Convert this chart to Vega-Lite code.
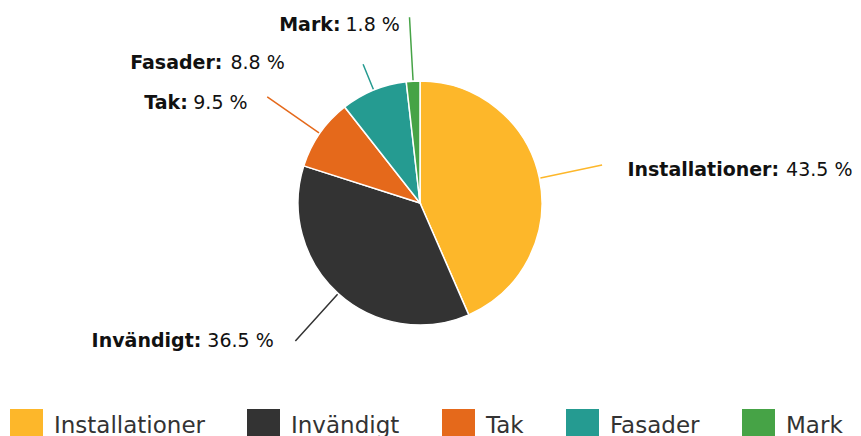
{
  "$schema": "https://vega.github.io/schema/vega-lite/v6.json",
  "autosize": "none",
  "width": 840,
  "height": 406,
  "padding": {"left": 0, "top": 0, "right": 21, "bottom": 30},
  "background": "#ffffff",
  "config": {"view": {"stroke": null}},
  "data": {
    "values": [
      {"cat": "Installationer", "value": 43.5, "ord": 1, "nameLabel": "Installationer:", "valueLabel": "43.5 %"},
      {"cat": "Invändigt", "value": 36.5, "ord": 2, "nameLabel": "Invändigt:", "valueLabel": "36.5 %"},
      {"cat": "Tak", "value": 9.5, "ord": 3, "nameLabel": "Tak:", "valueLabel": "9.5 %"},
      {"cat": "Fasader", "value": 8.8, "ord": 4, "nameLabel": "Fasader:", "valueLabel": "8.8 %"},
      {"cat": "Mark", "value": 1.8, "ord": 5, "nameLabel": "Mark:", "valueLabel": "1.8 %"}
    ]
  },
  "encoding": {
    "theta": {"field": "value", "type": "quantitative", "stack": true},
    "order": {"field": "ord", "type": "quantitative"}
  },
  "layer": [
    {
      "mark": {"type": "arc", "outerRadius": 122, "stroke": "#ffffff", "strokeWidth": 1.5},
      "encoding": {
        "color": {
          "field": "cat", "type": "nominal",
          "scale": {"domain": ["Installationer", "Invändigt", "Tak", "Fasader", "Mark"], "range": ["#FDB72A", "#333333", "#E5691B", "#259B91", "#46A346"]},
          "legend": {
            "orient": "none", "legendX": 10, "legendY": 409, "direction": "horizontal",
            "title": null, "symbolType": "square", "symbolSize": 1089, "symbolStrokeWidth": 0, "symbolOpacity": 1,
            "labelFont": "DejaVu Sans", "labelFontSize": 23, "labelColor": "#333333", "labelOffset": 11,
            "columnPadding": 42, "padding": 0, "labelLimit": 0
          }
        }
      }
    },
    {
      "mark": {"type": "arc", "innerRadius": 123, "outerRadius": 186, "padAngle": 3, "filled": false, "strokeWidth": 1.5},
      "encoding": {
        "stroke": {"field": "cat", "type": "nominal", "legend": null,
          "scale": {"domain": ["Installationer", "Invändigt", "Tak", "Fasader", "Mark"], "range": ["#FDB72A", "#333333", "#E5691B", "#259B91", "#46A346"]}},
        "strokeOpacity": {"condition": {"test": "datum.cat === 'Fasader'", "value": 0}, "value": 1}
      }
    },
    {
      "mark": {"type": "arc", "innerRadius": 123, "outerRadius": 150, "padAngle": 3, "filled": false, "strokeWidth": 1.5},
      "encoding": {
        "stroke": {"field": "cat", "type": "nominal", "legend": null,
          "scale": {"domain": ["Installationer", "Invändigt", "Tak", "Fasader", "Mark"], "range": ["#FDB72A", "#333333", "#E5691B", "#259B91", "#46A346"]}},
        "strokeOpacity": {"condition": {"test": "datum.cat === 'Fasader'", "value": 1}, "value": 0}
      }
    },
    {
      "mark": {"type": "text", "radius": 186, "dx": 177, "dy": 11, "align": "right", "baseline": "alphabetic", "font": "DejaVu Sans", "fontSize": 19, "fontWeight": "bold", "color": "#111111"},
      "encoding": {"text": {"condition": {"test": "datum.cat === 'Installationer'", "field": "nameLabel", "type": "nominal"}, "value": ""}}
    },
    {
      "mark": {"type": "text", "radius": 186, "dx": 184, "dy": 11, "align": "left", "baseline": "alphabetic", "font": "DejaVu Sans", "fontSize": 19, "color": "#111111"},
      "encoding": {"text": {"condition": {"test": "datum.cat === 'Installationer'", "field": "valueLabel", "type": "nominal"}, "value": ""}}
    },
    {
      "mark": {"type": "text", "radius": 186, "dx": -94, "dy": 6, "align": "right", "baseline": "alphabetic", "font": "DejaVu Sans", "fontSize": 19, "fontWeight": "bold", "color": "#111111"},
      "encoding": {"text": {"condition": {"test": "datum.cat === 'Invändigt'", "field": "nameLabel", "type": "nominal"}, "value": ""}}
    },
    {
      "mark": {"type": "text", "radius": 186, "dx": -88, "dy": 6, "align": "left", "baseline": "alphabetic", "font": "DejaVu Sans", "fontSize": 19, "color": "#111111"},
      "encoding": {"text": {"condition": {"test": "datum.cat === 'Invändigt'", "field": "valueLabel", "type": "nominal"}, "value": ""}}
    },
    {
      "mark": {"type": "text", "radius": 186, "dx": -79.5, "dy": 12, "align": "right", "baseline": "alphabetic", "font": "DejaVu Sans", "fontSize": 19, "fontWeight": "bold", "color": "#111111"},
      "encoding": {"text": {"condition": {"test": "datum.cat === 'Tak'", "field": "nameLabel", "type": "nominal"}, "value": ""}}
    },
    {
      "mark": {"type": "text", "radius": 186, "dx": -74, "dy": 12, "align": "left", "baseline": "alphabetic", "font": "DejaVu Sans", "fontSize": 19, "color": "#111111"},
      "encoding": {"text": {"condition": {"test": "datum.cat === 'Tak'", "field": "valueLabel", "type": "nominal"}, "value": ""}}
    },
    {
      "mark": {"type": "text", "radius": 186, "dx": -127, "dy": 38.5, "align": "right", "baseline": "alphabetic", "font": "DejaVu Sans", "fontSize": 19, "fontWeight": "bold", "color": "#111111"},
      "encoding": {"text": {"condition": {"test": "datum.cat === 'Fasader'", "field": "nameLabel", "type": "nominal"}, "value": ""}}
    },
    {
      "mark": {"type": "text", "radius": 186, "dx": -119, "dy": 38.5, "align": "left", "baseline": "alphabetic", "font": "DejaVu Sans", "fontSize": 19, "color": "#111111"},
      "encoding": {"text": {"condition": {"test": "datum.cat === 'Fasader'", "field": "valueLabel", "type": "nominal"}, "value": ""}}
    },
    {
      "mark": {"type": "text", "radius": 186, "dx": -69, "dy": 14, "align": "right", "baseline": "alphabetic", "font": "DejaVu Sans", "fontSize": 19, "fontWeight": "bold", "color": "#111111"},
      "encoding": {"text": {"condition": {"test": "datum.cat === 'Mark'", "field": "nameLabel", "type": "nominal"}, "value": ""}}
    },
    {
      "mark": {"type": "text", "radius": 186, "dx": -64, "dy": 14, "align": "left", "baseline": "alphabetic", "font": "DejaVu Sans", "fontSize": 19, "color": "#111111"},
      "encoding": {"text": {"condition": {"test": "datum.cat === 'Mark'", "field": "valueLabel", "type": "nominal"}, "value": ""}}
    }
  ]
}
